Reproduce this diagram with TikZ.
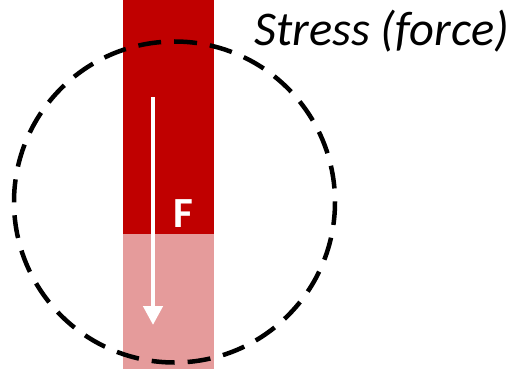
\documentclass[tikz,border=0pt]{standalone}
\usepackage{fontspec}
\setmainfont{Carlito}
\usepackage{xcolor}
\usetikzlibrary{arrows.meta, positioning, calc}
\definecolor{bardark}{HTML}{C00000}
\definecolor{barlight}{HTML}{E59B9B}
\tikzset{
  ring/.style   = {dashed, dash pattern=on 23pt off 13pt, line width=4.5pt},
  farrow/.style = {-{Triangle[width=19pt,length=19pt]}, white, line width=4.5pt},
  label/.style  = {font=\fontsize{48.5}{54}\selectfont\itshape, anchor=base west},
}

\begin{document}
\begin{tikzpicture}[x=1pt, y=-1pt]
  \useasboundingbox (0,0) rectangle (511,369);

  % the bar, upper and lower part
  \fill[bardark] (123,0) rectangle (214,234);
  \fill[barlight] (123,234) rectangle (214,369);

  % force arrow
  \coordinate (ftop) at (153,97);
  \coordinate (fbot) at (153,325);
  \draw[farrow] (ftop) -- (fbot);
  \node[font=\fontsize{43}{48}\selectfont\bfseries, white] (force) at (183,214) {F};

  % region of interest
  \draw[ring] (174.5,202) circle[radius=160.5];

  % caption
  \node[label, inner sep=0pt] (stress) at (254,46) {Stress (force)};
\end{tikzpicture}
\end{document}
